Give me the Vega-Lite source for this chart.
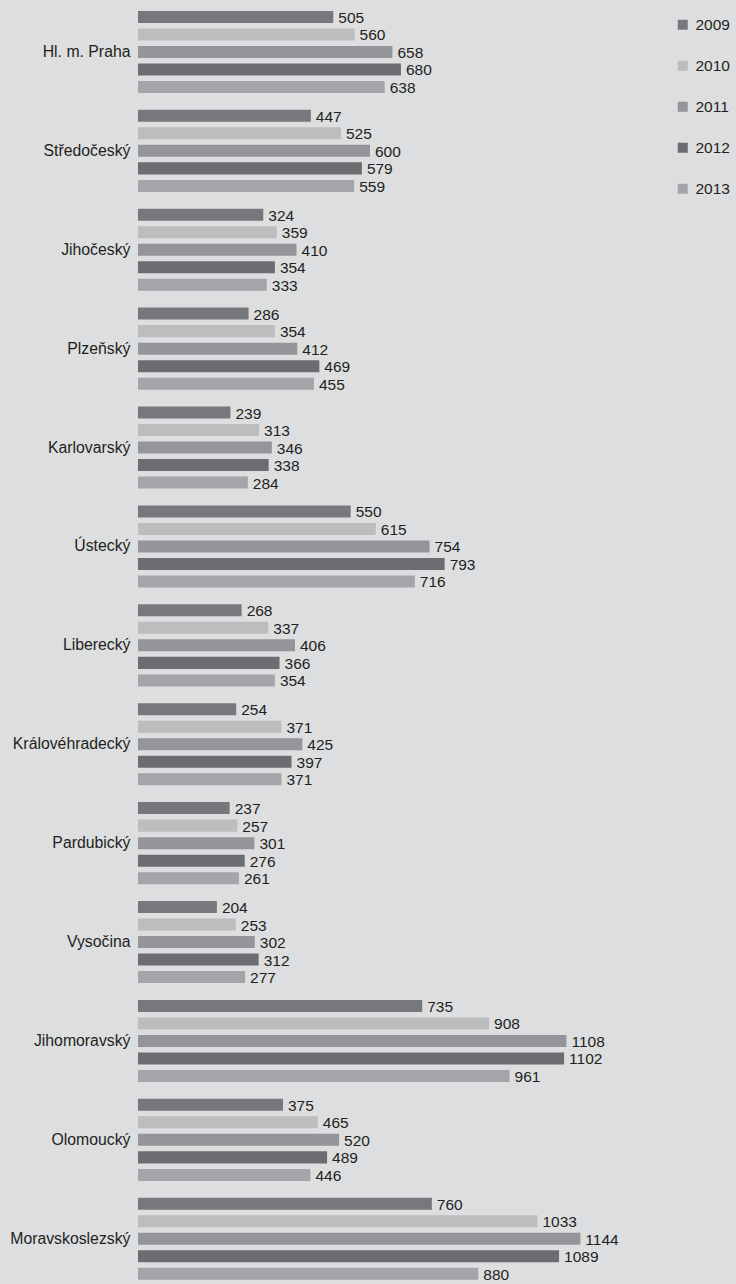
{
"$schema": "https://vega.github.io/schema/vega-lite/v6.json",
"width": 580,
"height": 1284,
"autosize": {"type": "none"},
"padding": {"left": 138, "top": 0, "right": 18, "bottom": 0},
"background": "#dddee0",
"config": {"view": {"stroke": null}, "font": "Liberation Sans, Arial, sans-serif"},
"data": {"values": [
{"region": "Hl. m. Praha", "year": "2009", "value": 505},
{"region": "Hl. m. Praha", "year": "2010", "value": 560},
{"region": "Hl. m. Praha", "year": "2011", "value": 658},
{"region": "Hl. m. Praha", "year": "2012", "value": 680},
{"region": "Hl. m. Praha", "year": "2013", "value": 638},
{"region": "Středočeský", "year": "2009", "value": 447},
{"region": "Středočeský", "year": "2010", "value": 525},
{"region": "Středočeský", "year": "2011", "value": 600},
{"region": "Středočeský", "year": "2012", "value": 579},
{"region": "Středočeský", "year": "2013", "value": 559},
{"region": "Jihočeský", "year": "2009", "value": 324},
{"region": "Jihočeský", "year": "2010", "value": 359},
{"region": "Jihočeský", "year": "2011", "value": 410},
{"region": "Jihočeský", "year": "2012", "value": 354},
{"region": "Jihočeský", "year": "2013", "value": 333},
{"region": "Plzeňský", "year": "2009", "value": 286},
{"region": "Plzeňský", "year": "2010", "value": 354},
{"region": "Plzeňský", "year": "2011", "value": 412},
{"region": "Plzeňský", "year": "2012", "value": 469},
{"region": "Plzeňský", "year": "2013", "value": 455},
{"region": "Karlovarský", "year": "2009", "value": 239},
{"region": "Karlovarský", "year": "2010", "value": 313},
{"region": "Karlovarský", "year": "2011", "value": 346},
{"region": "Karlovarský", "year": "2012", "value": 338},
{"region": "Karlovarský", "year": "2013", "value": 284},
{"region": "Ústecký", "year": "2009", "value": 550},
{"region": "Ústecký", "year": "2010", "value": 615},
{"region": "Ústecký", "year": "2011", "value": 754},
{"region": "Ústecký", "year": "2012", "value": 793},
{"region": "Ústecký", "year": "2013", "value": 716},
{"region": "Liberecký", "year": "2009", "value": 268},
{"region": "Liberecký", "year": "2010", "value": 337},
{"region": "Liberecký", "year": "2011", "value": 406},
{"region": "Liberecký", "year": "2012", "value": 366},
{"region": "Liberecký", "year": "2013", "value": 354},
{"region": "Královéhradecký", "year": "2009", "value": 254},
{"region": "Královéhradecký", "year": "2010", "value": 371},
{"region": "Královéhradecký", "year": "2011", "value": 425},
{"region": "Královéhradecký", "year": "2012", "value": 397},
{"region": "Královéhradecký", "year": "2013", "value": 371},
{"region": "Pardubický", "year": "2009", "value": 237},
{"region": "Pardubický", "year": "2010", "value": 257},
{"region": "Pardubický", "year": "2011", "value": 301},
{"region": "Pardubický", "year": "2012", "value": 276},
{"region": "Pardubický", "year": "2013", "value": 261},
{"region": "Vysočina", "year": "2009", "value": 204},
{"region": "Vysočina", "year": "2010", "value": 253},
{"region": "Vysočina", "year": "2011", "value": 302},
{"region": "Vysočina", "year": "2012", "value": 312},
{"region": "Vysočina", "year": "2013", "value": 277},
{"region": "Jihomoravský", "year": "2009", "value": 735},
{"region": "Jihomoravský", "year": "2010", "value": 908},
{"region": "Jihomoravský", "year": "2011", "value": 1108},
{"region": "Jihomoravský", "year": "2012", "value": 1102},
{"region": "Jihomoravský", "year": "2013", "value": 961},
{"region": "Olomoucký", "year": "2009", "value": 375},
{"region": "Olomoucký", "year": "2010", "value": 465},
{"region": "Olomoucký", "year": "2011", "value": 520},
{"region": "Olomoucký", "year": "2012", "value": 489},
{"region": "Olomoucký", "year": "2013", "value": 446},
{"region": "Moravskoslezský", "year": "2009", "value": 760},
{"region": "Moravskoslezský", "year": "2010", "value": 1033},
{"region": "Moravskoslezský", "year": "2011", "value": 1144},
{"region": "Moravskoslezský", "year": "2012", "value": 1089},
{"region": "Moravskoslezský", "year": "2013", "value": 880}
]},
"encoding": {
  "y": {"field": "region", "type": "nominal", "sort": null,
        "scale": {"paddingInner": 0, "paddingOuter": 0, "range": [2.5, 1288.2]},
        "axis": {"title": null, "ticks": false, "domain": false, "labelFontSize": 15.8, "labelPadding": 8, "labelColor": "#231f20"}},
  "yOffset": {"field": "year", "type": "nominal", "scale": {"paddingInner": 0.314, "paddingOuter": 0.48}},
  "x": {"field": "value", "type": "quantitative", "scale": {"domain": [0, 1500]}, "axis": null}
},
"layer": [
  {"mark": {"type": "bar"},
   "encoding": {"color": {"field": "year", "type": "nominal",
      "scale": {"range": ["#77787b", "#bcbdbf", "#949598", "#6c6d70", "#a4a5a8"]},
      "legend": {"title": null, "orient": "none", "legendX": 537, "legendY": 17, "symbolType": "square", "symbolSize": 100, "symbolStrokeWidth": 0, "labelFontSize": 15.5, "labelColor": "#231f20", "rowPadding": 24, "labelOffset": 5, "padding": 0}}}},
  {"mark": {"type": "text", "align": "left", "baseline": "middle", "dx": 5, "dy": 1, "fontSize": 15.5, "color": "#231f20"},
   "encoding": {"text": {"field": "value", "type": "quantitative"}}}
]
}
